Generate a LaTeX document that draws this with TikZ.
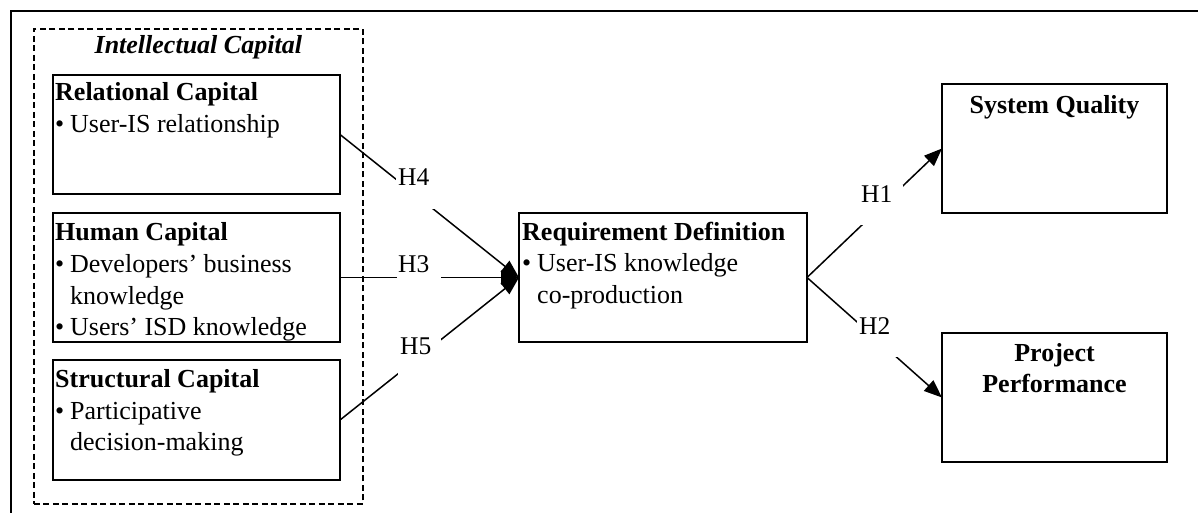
\documentclass[tikz,border=0pt]{standalone}
\usepackage{fontspec}
\setmainfont{Liberation Serif}
\usetikzlibrary{arrows.meta}
\newcommand\mybul{\makebox[15pt][l]{•}}
\newcommand\myind{\hspace*{15pt}}
\begin{document}
\begin{tikzpicture}[x=1pt,y=-1pt,
  box/.style={draw, line width=2pt, inner sep=0pt, outer sep=0pt, anchor=north west},
  dbox/.style={draw, line width=1.6pt, dash pattern=on 6pt off 3.5pt, inner sep=0pt, anchor=north west},
  txt/.style={inner sep=0pt, align=left, font=\fontsize{26}{31.7}\selectfont},
  ctxt/.style={inner sep=0pt, align=center, font=\fontsize{26}{31.7}\selectfont\bfseries},
  conn/.style={line width=1.5pt, -{Triangle[length=18pt,width=14pt]}},
  gap/.style={fill=white, inner xsep=2pt, inner ysep=0pt, anchor=north west, font=\fontsize{25.5}{30}\selectfont},
  frame/.style={line width=1.8pt}
]
\useasboundingbox (0,0) rectangle (1198,513);
\fill[white] (0,0) rectangle (1198,513);
\coordinate (fA) at (11,513);
\coordinate (fB) at (11,11);
\coordinate (fC) at (1198,11);
\draw[frame] (fA) -- (fB) -- (fC);

% intellectual capital group
\node[dbox, minimum width=329pt, minimum height=475pt] (ic) at (33,28) {};
\node[txt, anchor=north] (ict) at (ic.north) {\rule{0pt}{25.3pt}\bfseries\itshape Intellectual Capital};

% boxes
\node[box, minimum width=287pt, minimum height=119pt] (rel) at (53,75) {};
\node[box, minimum width=287pt, minimum height=129pt] (hum) at (53,213) {};
\node[box, minimum width=287pt, minimum height=120pt] (str) at (53,360) {};
\node[box, minimum width=288pt, minimum height=129pt] (req) at (519,213) {};
\node[box, minimum width=225pt, minimum height=129pt] (sq) at (942,84) {};
\node[box, minimum width=225pt, minimum height=129pt] (pp) at (942,333) {};

\node[txt, anchor=north west] (relt) at ([xshift=2pt]rel.north west)
  {\rule{0pt}{25.7pt}{\bfseries Relational Capital}\\\mybul User-IS relationship};
\node[txt, anchor=north west] (humt) at ([xshift=2pt]hum.north west)
  {\rule{0pt}{27.5pt}{\bfseries Human Capital}\\\mybul Developers’ business\\\myind knowledge\\\mybul Users’ ISD knowledge};
\node[txt, anchor=north west] (strt) at ([xshift=2pt]str.north west)
  {\rule{0pt}{27.3pt}{\bfseries Structural Capital}\\\mybul Participative\\\myind decision-making};
\node[txt, anchor=north west] (reqt) at ([xshift=3pt]req.north west)
  {\rule{0pt}{27pt}{\bfseries Requirement Definition}\\\mybul User-IS knowledge\\\myind co-production};
\node[ctxt, anchor=north] (sqt) at (sq.north)
  {\rule{0pt}{29pt}System Quality};
\node[ctxt, anchor=north] (ppt) at (pp.north)
  {\rule{0pt}{28pt}Project\\Performance};

% connectors
\draw[conn] (rel.east) -- (req.west);
\draw[conn] (hum.east) -- (req.west);
\draw[conn] (str.east) -- (req.west);
\draw[conn] (req.east) -- (sq.west);
\draw[conn] (req.east) -- (pp.west);

% hypothesis labels (white text boxes over the lines)
\node[gap] (h4) at (396,169) {\rule[-23pt]{0pt}{21pt}\makebox[40pt][l]{H4}};
\node[gap, inner xsep=1pt] (h3) at (397,255) {\rule[-23pt]{0pt}{21pt}\makebox[42pt][l]{H3}};
\node[gap] (h5) at (398,338) {\rule[-23pt]{0pt}{21pt}\makebox[39pt][l]{H5}};
\node[gap] (h1) at (859,185) {\rule[-23pt]{0pt}{21pt}\makebox[40pt][l]{H1}};
\node[gap] (h2) at (857,317) {\rule[-23pt]{0pt}{21pt}\makebox[40pt][l]{H2}};
\end{tikzpicture}
\end{document}
